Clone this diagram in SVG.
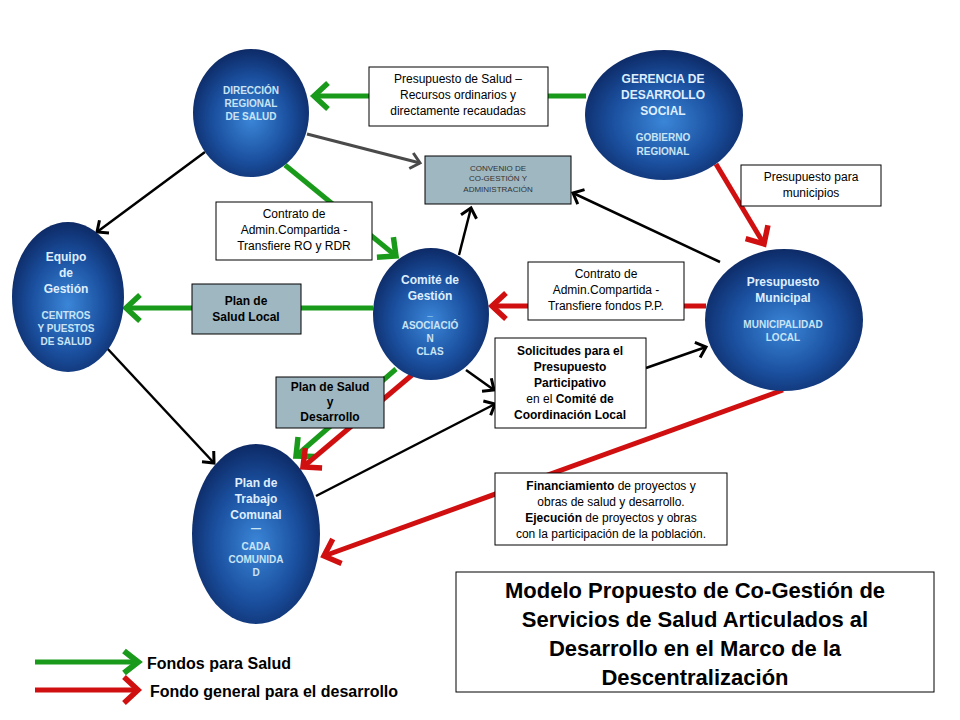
<svg xmlns="http://www.w3.org/2000/svg" width="960" height="720" viewBox="0 0 960 720">
<defs>
<radialGradient id="g" cx="50%" cy="55%" r="55%"><stop offset="0" stop-color="#3b86d8"/><stop offset="0.6" stop-color="#1a4f9e"/><stop offset="1" stop-color="#0d2a66"/></radialGradient>
<marker id="ag" viewBox="-20 -20 40 40" refX="0" refY="0" markerWidth="40" markerHeight="40" orient="auto" markerUnits="userSpaceOnUse"><path d="M-14,-13 L0,0 L-14,13" fill="none" stroke="#1a9a1a" stroke-width="5.5"/></marker>
<marker id="ar" viewBox="-20 -20 40 40" refX="0" refY="0" markerWidth="40" markerHeight="40" orient="auto" markerUnits="userSpaceOnUse"><path d="M-14,-13 L0,0 L-14,13" fill="none" stroke="#d01010" stroke-width="5.5"/></marker>
<marker id="ak" viewBox="-20 -20 40 40" refX="0" refY="0" markerWidth="40" markerHeight="40" orient="auto" markerUnits="userSpaceOnUse"><path d="M-9,-8 L0,0 L-9,8" fill="none" stroke="#000" stroke-width="3"/></marker>
<marker id="ak2" viewBox="-20 -20 40 40" refX="0" refY="0" markerWidth="40" markerHeight="40" orient="auto" markerUnits="userSpaceOnUse"><path d="M9,-8 L0,0 L9,8" fill="none" stroke="#000" stroke-width="3"/></marker>
<marker id="ay" viewBox="-20 -20 40 40" refX="0" refY="0" markerWidth="40" markerHeight="40" orient="auto" markerUnits="userSpaceOnUse"><path d="M-9,-8 L0,0 L-9,8" fill="none" stroke="#4a4a4a" stroke-width="3"/></marker>
<marker id="agL" viewBox="-20 -20 40 40" refX="0" refY="0" markerWidth="40" markerHeight="40" orient="auto" markerUnits="userSpaceOnUse"><path d="M-14,-11 L0,0 L-14,11" fill="none" stroke="#1a9a1a" stroke-width="6"/></marker>
</defs>
<style>
text{font-family:"Liberation Sans",Arial,sans-serif}
.n{fill:url(#g)}
.nt{fill:#dfeeff;font-weight:bold;font-size:12px;text-anchor:middle}
.ns{fill:#c9e4f5;font-weight:bold;font-size:10px;text-anchor:middle}
.b{fill:#fff;stroke:#000;stroke-width:1}
.bb{fill:#9fb7c0;stroke:#000;stroke-width:1}
.t{font-size:12px;text-anchor:middle;fill:#000}
.tb{font-size:12px;text-anchor:middle;fill:#000;font-weight:bold}
.gr{stroke:#1a9a1a;stroke-width:5;fill:none}
.rd{stroke:#d01010;stroke-width:5;fill:none}
.bk{stroke:#000;stroke-width:2.5;fill:none}
</style>
<rect width="960" height="720" fill="#fff"/>
<g id="connectors">
<line class="gr" x1="586" y1="96" x2="314" y2="96" marker-end="url(#ag)"/>
<line x1="307" y1="134" x2="420" y2="163" stroke="#4a4a4a" stroke-width="3" marker-end="url(#ay)"/>
<line class="gr" x1="285" y1="165" x2="396" y2="256" marker-end="url(#ag)"/>
<line class="bk" x1="205" y1="152" x2="97" y2="232" marker-end="url(#ak)"/>
<line class="rd" x1="716" y1="164" x2="764" y2="244" marker-end="url(#ar)"/>
<line class="bk" x1="720" y1="262" x2="573" y2="193" marker-end="url(#ak)"/>
<line class="bk" x1="459" y1="255" x2="471" y2="208" marker-end="url(#ak)"/>
<line class="rd" x1="706" y1="306" x2="492" y2="306" marker-end="url(#ar)"/>
<line class="gr" x1="373" y1="308" x2="126" y2="308" marker-end="url(#ag)"/>
<line class="bk" x1="466" y1="370" x2="494" y2="390" marker-end="url(#ak)"/>
<line class="bk" x1="646" y1="368" x2="706" y2="347" marker-end="url(#ak)"/>
<line class="gr" x1="396" y1="369" x2="296" y2="456" marker-end="url(#ag)"/>
<line class="rd" x1="412" y1="375" x2="303" y2="467" marker-end="url(#ar)"/>
<line class="bk" x1="92" y1="332" x2="214" y2="463" marker-start="url(#ak2)" marker-end="url(#ak)"/>
<line class="bk" x1="316" y1="496" x2="495" y2="404" marker-end="url(#ak)"/>
<line class="rd" x1="783" y1="390" x2="324" y2="556" marker-end="url(#ar)"/>
<line class="gr" stroke-width="6" x1="35" y1="662" x2="138" y2="662" marker-end="url(#agL)"/>
<line class="rd" stroke-width="6" x1="35" y1="690" x2="138" y2="690" marker-end="url(#ar)"/>
</g>
<g id="dir"><ellipse class="n" cx="251" cy="113" rx="58" ry="64"/>
<text class="ns" x="251" y="94">DIRECCIÓN</text><text class="ns" x="251" y="107">REGIONAL</text><text class="ns" x="251" y="120">DE SALUD</text></g>
<g id="ger"><ellipse class="n" cx="664" cy="115" rx="79" ry="65"/>
<text class="nt" x="663" y="83">GERENCIA DE</text><text class="nt" x="663" y="99">DESARROLLO</text><text class="nt" x="663" y="115">SOCIAL</text>
<text class="ns" x="663" y="141">GOBIERNO</text><text class="ns" x="663" y="155">REGIONAL</text></g>
<g id="equipo"><ellipse class="n" cx="68" cy="297" rx="56" ry="75"/>
<text class="nt" x="66" y="261">Equipo</text><text class="nt" x="66" y="277">de</text><text class="nt" x="66" y="293">Gestión</text>
<text class="ns" x="66" y="319">CENTROS</text><text class="ns" x="66" y="332">Y PUESTOS</text><text class="ns" x="66" y="345">DE SALUD</text></g>
<g id="comite"><ellipse class="n" cx="431" cy="314" rx="58" ry="66"/>
<text class="nt" x="430" y="284">Comité de</text><text class="nt" x="430" y="300">Gestión</text><text class="ns" x="430" y="315">_</text>
<text class="ns" x="430" y="329">ASOCIACIÓ</text><text class="ns" x="430" y="342">N</text><text class="ns" x="430" y="355">CLAS</text></g>
<g id="pm"><ellipse class="n" cx="784" cy="320" rx="79" ry="71"/>
<text class="nt" x="783" y="286">Presupuesto</text><text class="nt" x="783" y="302">Municipal</text>
<text class="ns" x="783" y="328">MUNICIPALIDAD</text><text class="ns" x="783" y="341">LOCAL</text></g>
<g id="ptc"><ellipse class="n" cx="256" cy="534" rx="64" ry="90"/>
<text class="nt" x="256" y="487">Plan de</text><text class="nt" x="256" y="503">Trabajo</text><text class="nt" x="256" y="519">Comunal</text><text class="ns" x="256" y="532">—</text>
<text class="ns" x="256" y="550">CADA</text><text class="ns" x="256" y="563">COMUNIDA</text><text class="ns" x="256" y="576">D</text></g>
<g id="lbl-ps"><rect class="b" x="369" y="67" width="179" height="59"/>
<text class="t" x="458" y="83">Presupuesto de Salud  –</text><text class="t" x="458" y="99">Recursos ordinarios y</text><text class="t" x="458" y="115">directamente recaudadas</text></g>
<g id="convenio"><rect class="bb" x="425" y="156" width="146" height="48"/>
<text x="498" y="171" font-size="8" text-anchor="middle" fill="#333">CONVENIO DE</text><text x="498" y="181" font-size="8" text-anchor="middle" fill="#333">CO-GESTIÓN Y</text><text x="498" y="192" font-size="8" text-anchor="middle" fill="#333">ADMINISTRACIÓN</text></g>
<g id="lbl-c1"><rect class="b" x="216" y="202" width="156" height="58"/>
<text class="t" x="294" y="218">Contrato de</text><text class="t" x="294" y="234">Admin.Compartida -</text><text class="t" x="294" y="250">Transfiere RO y RDR</text></g>
<g id="lbl-pm"><rect class="b" x="741" y="165" width="140" height="41"/>
<text class="t" x="811" y="181">Presupuesto para</text><text class="t" x="811" y="197">municipios</text></g>
<g id="lbl-c2"><rect class="b" x="528" y="262" width="156" height="58"/>
<text class="t" x="606" y="278">Contrato de</text><text class="t" x="606" y="294">Admin.Compartida -</text><text class="t" x="606" y="310">Transfiere  fondos P.P.</text></g>
<g id="psl"><rect class="bb" x="192" y="284" width="109" height="50"/>
<text class="tb" x="246" y="305">Plan de</text><text class="tb" x="246" y="321">Salud Local</text></g>
<g id="sol"><rect class="b" x="495" y="338" width="151" height="90"/>
<text class="tb" x="570" y="355">Solicitudes para el</text><text class="tb" x="570" y="371">Presupuesto</text><text class="tb" x="570" y="387">Participativo</text>
<text class="t" x="570" y="403">en el <tspan font-weight="bold">Comité de</tspan></text><text class="tb" x="570" y="419">Coordinación Local</text></g>
<g id="psd"><rect class="bb" x="276" y="377" width="108" height="51"/>
<text class="tb" x="330" y="391">Plan de Salud</text><text class="tb" x="330" y="406">y</text><text class="tb" x="330" y="421">Desarrollo</text></g>
<g id="fin"><rect class="b" x="495" y="473" width="232" height="72"/>
<text class="t" x="611" y="490"><tspan font-weight="bold">Financiamiento</tspan> de proyectos y</text>
<text class="t" x="611" y="506">obras de salud y desarrollo.</text>
<text class="t" x="611" y="522"><tspan font-weight="bold">Ejecución</tspan> de proyectos y obras</text>
<text class="t" x="611" y="538">con la participación de la población.</text></g>
<g id="title"><rect class="b" x="456" y="572" width="478" height="120"/>
<g font-size="22" font-weight="bold" text-anchor="middle">
<text x="695" y="598">Modelo Propuesto de Co-Gestión de</text>
<text x="695" y="627">Servicios de Salud Articulados al</text>
<text x="695" y="656">Desarrollo en el Marco de la</text>
<text x="695" y="685">Descentralización</text></g></g>
<g id="legend" font-size="16" font-weight="bold">
<text x="147" y="669">Fondos para Salud</text>
<text x="150" y="697">Fondo general para el desarrollo</text></g>
</svg>
